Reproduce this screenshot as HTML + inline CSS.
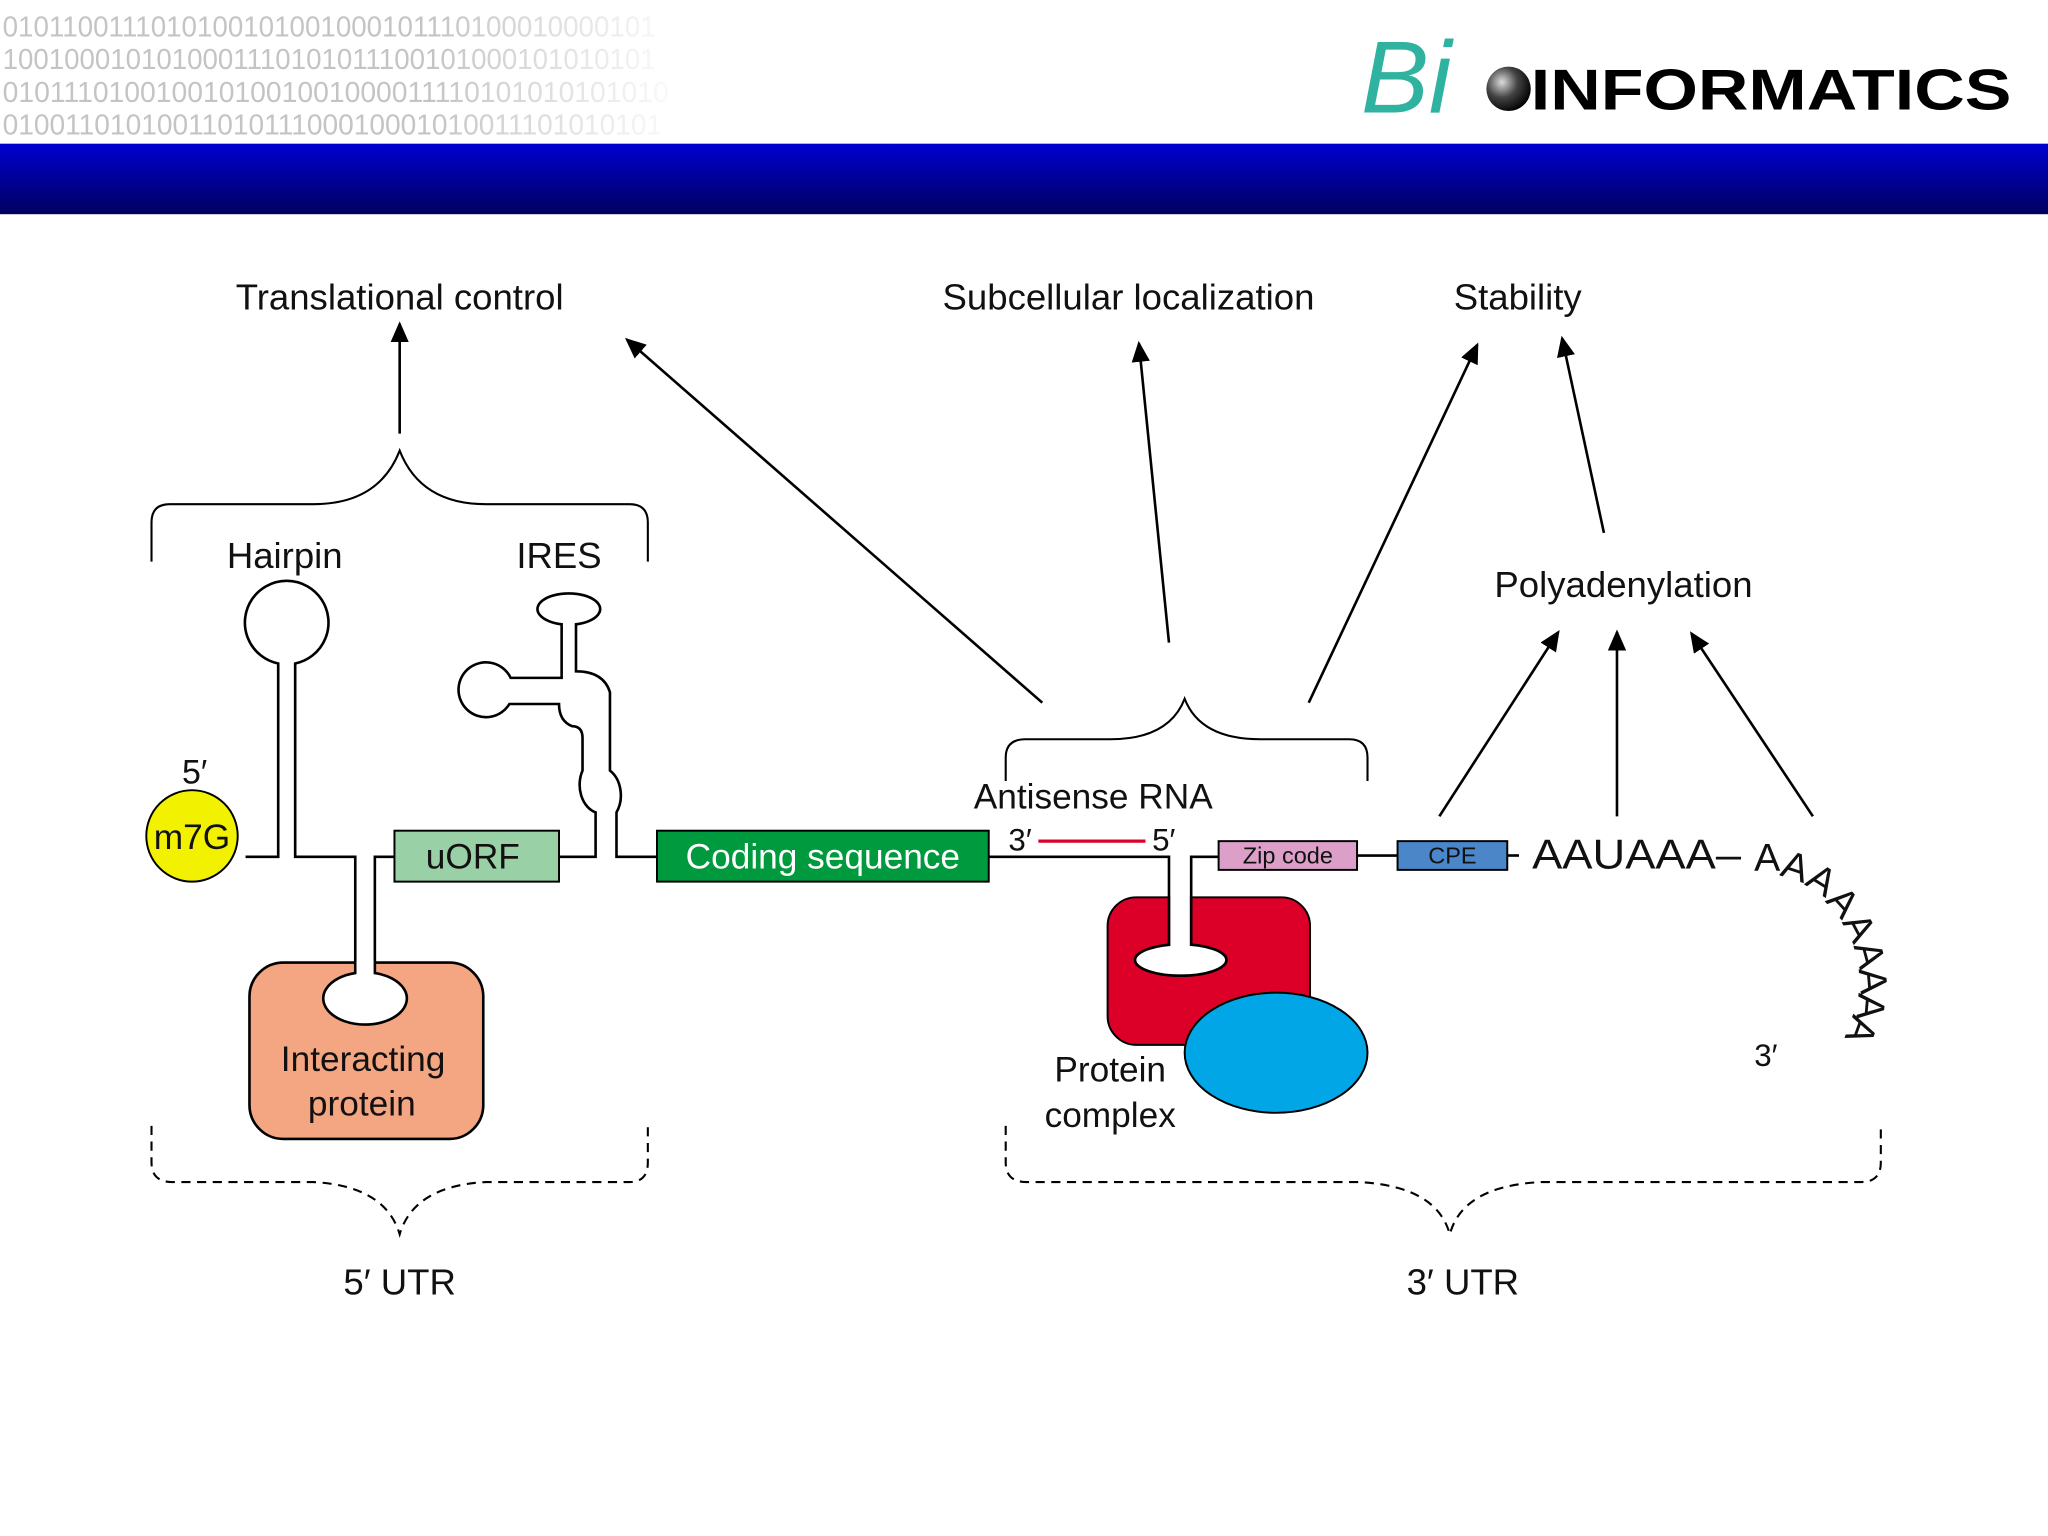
<!DOCTYPE html>
<html><head><meta charset="utf-8"><style>
html,body{margin:0;padding:0;background:#fff;}
svg{display:block;}
text{font-family:"Liberation Sans",Arial,sans-serif;fill:#111;}
</style></head><body>
<svg width="2048" height="1536" viewBox="0 0 1568 1176" xmlns="http://www.w3.org/2000/svg">
<defs>
<linearGradient id="band" x1="0" y1="0" x2="0" y2="1">
<stop offset="0" stop-color="#0000d0"/><stop offset="1" stop-color="#000060"/></linearGradient>
<linearGradient id="wfade" x1="0" y1="0" x2="1" y2="0">
<stop offset="0" stop-color="#fff" stop-opacity="0"/><stop offset="1" stop-color="#fff" stop-opacity="1"/></linearGradient>
<radialGradient id="ball" cx="0.35" cy="0.35" r="0.7"><stop offset="0" stop-color="#ddd"/><stop offset="0.5" stop-color="#444"/><stop offset="1" stop-color="#000"/></radialGradient>
<marker id="ah" markerWidth="16" markerHeight="14" refX="14" refY="7" orient="auto" markerUnits="userSpaceOnUse" viewBox="0 0 16 14">
<path d="M0,0 L16,7 L0,14 Z" fill="#000"/></marker>
</defs>
<rect width="1568" height="1176" fill="#fff"/>
<!-- header -->
<g font-family="Liberation Sans Narrow,Liberation Sans,sans-serif" font-size="22" style="fill:#c4c4c4">
<text x="2" y="28" textLength="500" lengthAdjust="spacingAndGlyphs" style="fill:#c4c4c4">0101100111010100101001000101110100010000101</text>
<text x="2" y="53" textLength="500" lengthAdjust="spacingAndGlyphs" style="fill:#c4c4c4">1001000101010001110101011100101000101010101</text>
<text x="2" y="78" textLength="510" lengthAdjust="spacingAndGlyphs" style="fill:#c4c4c4">0101110100100101001001000011110101010101010</text>
<text x="2" y="103" textLength="505" lengthAdjust="spacingAndGlyphs" style="fill:#c4c4c4">0100110101001101011100010001010011101010101</text>
</g>
<rect x="330" y="5" width="200" height="105" fill="url(#wfade)"/>
<text x="1042" y="86" font-family="Liberation Serif,serif" font-style="italic" font-size="78" style="fill:#2fb3a0">Bi</text>
<circle cx="1155" cy="68" r="17" fill="url(#ball)"/>
<text x="1172" y="84" font-weight="bold" font-size="44" style="fill:#000" textLength="368" lengthAdjust="spacingAndGlyphs">INFORMATICS</text>
<rect x="0" y="110" width="1568" height="54" fill="url(#band)"/>

<g stroke="#000" stroke-width="2" fill="none">
<line x1="306" y1="332" x2="306" y2="248" marker-end="url(#ah)"/>
<line x1="798" y1="538" x2="480" y2="260" marker-end="url(#ah)"/>
<line x1="895" y1="492" x2="872" y2="263" marker-end="url(#ah)"/>
<line x1="1002" y1="538" x2="1131" y2="264" marker-end="url(#ah)"/>
<line x1="1228" y1="408" x2="1196" y2="259" marker-end="url(#ah)"/>
<line x1="1102" y1="625" x2="1193" y2="484" marker-end="url(#ah)"/>
<line x1="1238" y1="625" x2="1238" y2="484" marker-end="url(#ah)"/>
<line x1="1388" y1="625" x2="1295" y2="485" marker-end="url(#ah)"/>
<path d="M116,430 L116,400 Q116,386 130,386 L240,386 Q290,386 306,345 Q322,386 372,386 L482,386 Q496,386 496,400 L496,430" stroke-width="1.6"/>
<path d="M770,598 L770,580 Q770,566 785,566 L850,566 Q895,566 907,535 Q919,566 965,566 L1033,566 Q1047,566 1047,580 L1047,598" stroke-width="1.6"/>
<path d="M116,862 L116,890 Q116,905 132,905 L240,905 Q295,908 306,945 Q317,908 372,905 L482,905 Q496,905 496,890 L496,862" stroke-width="1.6" stroke-dasharray="7,5"/>
<path d="M770,862 L770,890 Q770,905 786,905 L1040,905 Q1100,908 1110,945 Q1120,908 1180,905 L1425,905 Q1440,905 1440,890 L1440,862" stroke-width="1.6" stroke-dasharray="7,5"/>
</g>

<g stroke="#000" stroke-width="2" fill="none">
<path d="M188,656 L213,656 L213,508 A32,32 0 1 1 226,508 L226,656 L272,656 L272,745"/>
<path d="M287,745 L287,656 L302,656"/>
<path d="M428,656 L456,656 L456,622 A17,22 0 0 1 446,590 L446,565 Q446,556 438,556 Q428,552 428,539 L390,539 A21,21 0 1 1 391,519 L430,519 L430,478 A24,12 0 1 1 441,478 L441,514 Q462,514 467,530 L467,590 A17,22 0 0 1 472,622 L472,656 L503,656"/>
<path d="M757,656 L895,656 L895,725"/>
<path d="M912,725 L912,656 L933,656"/>
<line x1="1039" y1="655" x2="1070" y2="655"/>
<line x1="1154" y1="655" x2="1163" y2="655"/>
</g>
<rect x="191" y="737" width="179" height="135" rx="26" fill="#f4a582" stroke="#000" stroke-width="2"/>
<path d="M272,737 L272,745 A32,20 0 1 0 287,745 L287,737" fill="#fff" stroke="#000" stroke-width="2"/>
<rect x="273" y="735" width="13" height="12" fill="#fff"/>
<text x="278" y="820" font-size="27" text-anchor="middle">Interacting</text>
<text x="277" y="854" font-size="27" text-anchor="middle">protein</text>
<circle cx="147" cy="640" r="35" fill="#f2f200" stroke="#000" stroke-width="1.5"/>
<text x="147" y="650" font-size="27" text-anchor="middle">m7G</text>
<text x="149" y="600" font-size="26" text-anchor="middle">5′</text>
<rect x="302" y="636" width="126" height="39" fill="#99d0a6" stroke="#000" stroke-width="1.5"/>
<text x="362" y="665" font-size="27" text-anchor="middle">uORF</text>
<rect x="503" y="636" width="254" height="39" fill="#009a3e" stroke="#000" stroke-width="1.5"/>
<text x="630" y="665" font-size="27" text-anchor="middle" style="fill:#fff">Coding sequence</text>
<rect x="848" y="687" width="155" height="113" rx="22" fill="#dc0028" stroke="#000" stroke-width="1.5"/>
<ellipse cx="904" cy="735" rx="35" ry="12" fill="#fff" stroke="#000" stroke-width="2"/>
<rect x="896" y="686" width="15" height="46" fill="#fff"/>
<line x1="895" y1="686" x2="895" y2="724" stroke="#000" stroke-width="2"/>
<line x1="912" y1="686" x2="912" y2="724" stroke="#000" stroke-width="2"/>
<ellipse cx="977" cy="806" rx="70" ry="46" fill="#00a6e6" stroke="#000" stroke-width="1.5"/>
<text x="850" y="828" font-size="27" text-anchor="middle">Protein</text>
<text x="850" y="863" font-size="27" text-anchor="middle">complex</text>
<text x="837" y="619" font-size="27" text-anchor="middle">Antisense RNA</text>
<text x="781" y="651" font-size="24" text-anchor="middle">3′</text>
<line x1="795" y1="644" x2="877" y2="644" stroke="#dc0028" stroke-width="2.5"/>
<text x="891" y="651" font-size="24" text-anchor="middle">5′</text>
<rect x="933" y="644" width="106" height="22" fill="#dca0c8" stroke="#000" stroke-width="1.5"/>
<text x="986" y="661" font-size="18" text-anchor="middle">Zip code</text>
<rect x="1070" y="644" width="84" height="22" fill="#4a86c8" stroke="#000" stroke-width="1.5"/>
<text x="1112" y="661" font-size="18" text-anchor="middle">CPE</text>
<text x="1173" y="665" font-size="32" textLength="160" lengthAdjust="spacingAndGlyphs">AAUAAA–</text>
<g font-size="30">
<text x="1343" y="667">A</text>
<text transform="translate(1362,670) rotate(18)">A</text>
<text transform="translate(1381,677) rotate(32)">A</text>
<text transform="translate(1397,690) rotate(48)">A</text>
<text transform="translate(1410,706) rotate(62)">A</text>
<text transform="translate(1419,724) rotate(75)">A</text>
<text transform="translate(1423,742) rotate(85)">A</text>
<text transform="translate(1423,760) rotate(95)">A</text>
<text transform="translate(1419,776) rotate(110)">A</text>
</g>
<text x="1352" y="816" font-size="24" text-anchor="middle">3′</text>
<g font-size="28" text-anchor="middle">
<text x="306" y="237">Translational control</text>
<text x="864" y="237">Subcellular localization</text>
<text x="1162" y="237">Stability</text>
<text x="1243" y="457">Polyadenylation</text>
<text x="218" y="435">Hairpin</text>
<text x="428" y="435">IRES</text>
<text x="306" y="991">5′ UTR</text>
<text x="1120" y="991">3′ UTR</text>
</g>
</svg>
</body></html>
